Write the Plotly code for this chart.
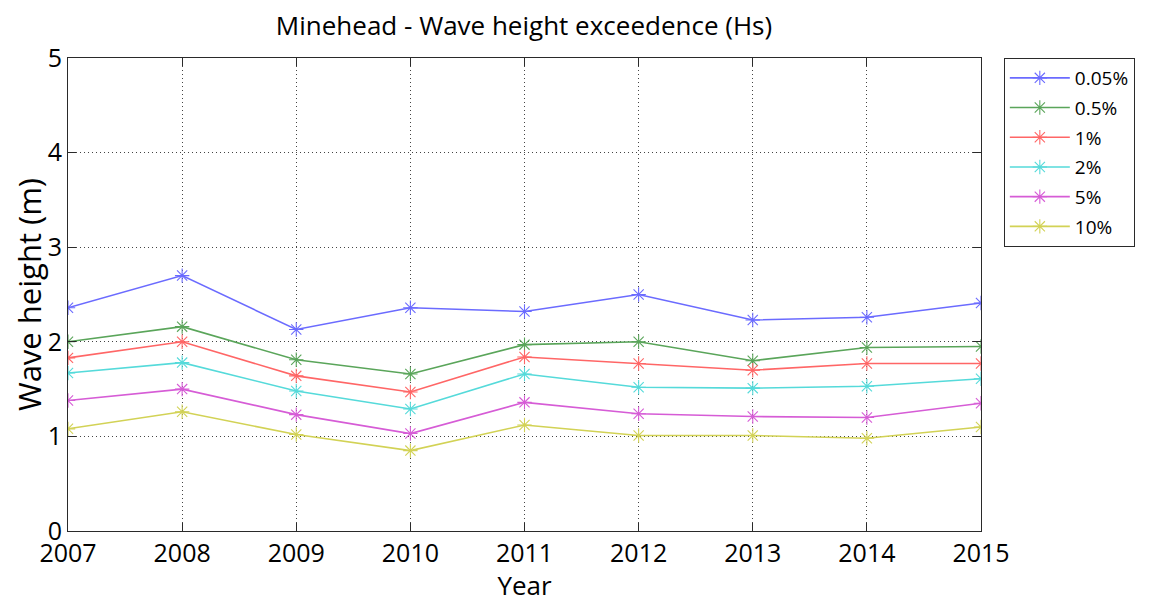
import plotly.graph_objects as go

years = [2007, 2008, 2009, 2010, 2011, 2012, 2013, 2014, 2015]
labels = ["0.05%", "0.5%", "1%", "2%", "5%", "10%"]
s005 = [2.36, 2.70, 2.13, 2.36, 2.32, 2.50, 2.23, 2.26, 2.41]
s05 = [2.00, 2.16, 1.81, 1.66, 1.97, 2.00, 1.80, 1.94, 1.95]
s1 = [1.83, 2.00, 1.64, 1.47, 1.84, 1.77, 1.70, 1.77, 1.77]
s2 = [1.67, 1.78, 1.48, 1.29, 1.66, 1.52, 1.51, 1.53, 1.61]
s5 = [1.38, 1.50, 1.23, 1.03, 1.36, 1.24, 1.21, 1.20, 1.35]
s10 = [1.08, 1.26, 1.02, 0.85, 1.12, 1.01, 1.01, 0.98, 1.10]
series = [s005, s05, s1, s2, s5, s10]
line_colors = ["#6b6bff", "#5aa55a", "#ff6666", "#55dada", "#d65cd6", "#d2d255"]
marker_colors = ["#1f1fff", "#1e8a1e", "#ff2020", "#1fc8c8", "#c42ac4", "#c4c41e"]

FONT = "Open Sans, sans-serif"

fig = go.Figure()
for i, (name, vals, lc, mc) in enumerate(zip(labels, series, line_colors, marker_colors)):
    fig.add_trace(go.Scatter(
        x=years, y=vals, name=name, mode="lines+markers", legendgroup=f"g{i}",
        line=dict(color=lc, width=1.6),
        marker=dict(symbol="asterisk-open", size=12, line=dict(color=mc, width=1.1)),
    ))

axis_common = dict(
    showline=True, linecolor="#2a2a2a", linewidth=1, mirror="ticks",
    ticks="inside", ticklen=8, tickcolor="#2a2a2a",
    showgrid=True, gridcolor="#444444", griddash="1px,3px", gridwidth=1,
    zeroline=False, tickfont=dict(family=FONT, size=25, color="black"),
    automargin=False,
)

# the page body adds an 8px offset, so the figure is 8px smaller than the window
fig.update_layout(
    width=1145, height=595,
    margin=dict(l=60, r=172, t=50, b=72),
    paper_bgcolor="white", plot_bgcolor="white",
    title=dict(text="Minehead - Wave height exceedence (Hs)", x=(524 - 8) / 1145, xanchor="center",
               y=1 - (26 - 8) / 595, yanchor="middle", xref="container", yref="container",
               font=dict(family=FONT, size=26, color="black")),
    xaxis=dict(range=[2007, 2015], tickvals=years, ticklabelstandoff=0,
               title=dict(text="Year", standoff=0,
                          font=dict(family=FONT, size=26, color="black")), **axis_common),
    yaxis=dict(range=[0, 5], tickvals=[0, 1, 2, 3, 4, 5],
               title=dict(text="Wave height (m)", standoff=0,
                          font=dict(family=FONT, size=31, color="black")), **axis_common),
    legend=dict(x=1.025, y=1.0, xanchor="left", yanchor="top",
                bordercolor="#2a2a2a", borderwidth=1, bgcolor="white",
                font=dict(family=FONT, size=19, color="black"),
                tracegroupgap=2, itemwidth=60),
    showlegend=True,
)

fig.write_html("out.html")
